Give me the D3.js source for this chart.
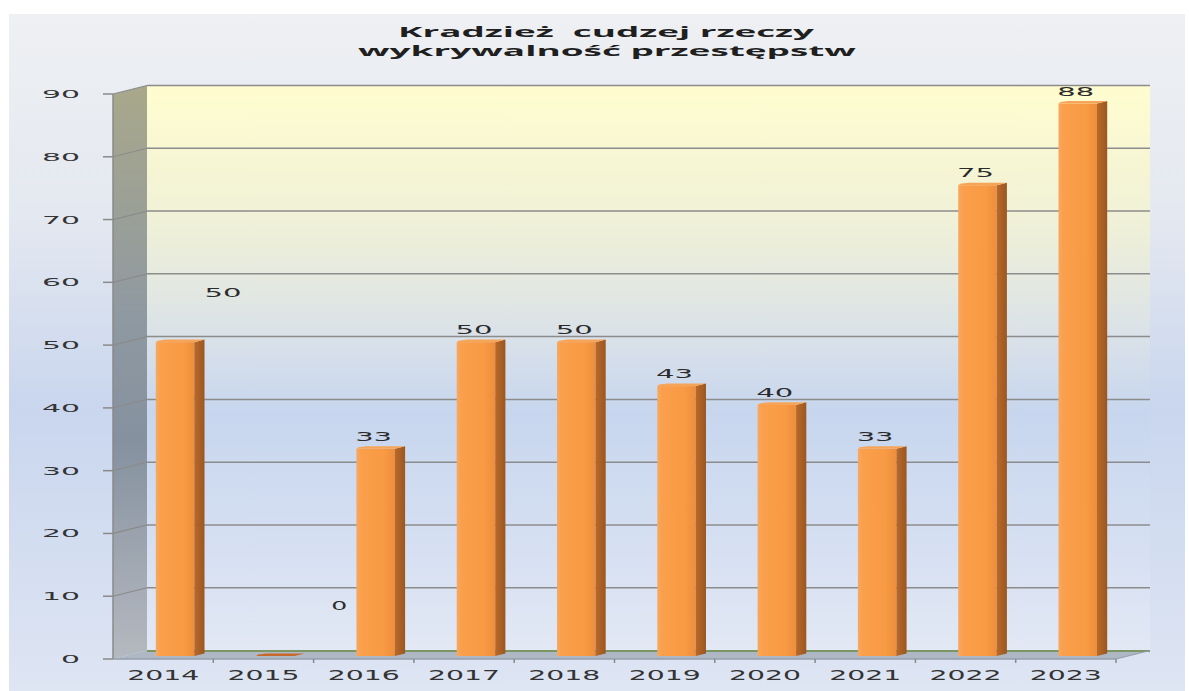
<!DOCTYPE html>
<html>
<head>
<meta charset="utf-8">
<script src="https://cdn.jsdelivr.net/npm/d3@7"></script>
<style>
  body { margin: 0; background: #ffffff; }
  svg { display: block; }
</style>
</head>
<body>
<div class="container"><svg width="1189" height="691"></svg></div>
<script>
// chart data
var years = ["2014", "2015", "2016", "2017", "2018", "2019", "2020", "2021", "2022", "2023"];
var values = [50, 0, 33, 50, 50, 43, 40, 33, 75, 88];
var yTicks = [0, 10, 20, 30, 40, 50, 60, 70, 80, 90];
var titleLines = ["Kradzież  cudzej rzeczy", "wykrywalność przestępstw"];

// two labels were dragged away from their bars in the original
var labelNudge = { "2014": [50, -37], "2015": [66, -38] };

var svg = d3.select(".container").select("svg");
var defs = svg.append("defs");

// 3d depth vector of the plot box
var depthX = 34, depthY = -8.5;

var x = d3.scaleBand()
    .domain(years)
    .range([113, 1116])
    .padding(0);

var y = d3.scaleLinear()
    .domain([0, 90])
    .range([659, 94]);

// gradients
function vGradient(id, stops) {
    var g = defs.append("linearGradient")
        .attr("id", id)
        .attr("x1", 0).attr("y1", 0).attr("x2", 0).attr("y2", 1);
    stops.forEach(function (s) {
        g.append("stop").attr("offset", s[0]).attr("stop-color", s[1]);
    });
}
function hGradient(id, stops) {
    var g = defs.append("linearGradient")
        .attr("id", id)
        .attr("x1", 0).attr("y1", 0).attr("x2", 1).attr("y2", 0);
    stops.forEach(function (s) {
        g.append("stop").attr("offset", s[0]).attr("stop-color", s[1]);
    });
}
vGradient("bg", [["0%", "#eef0f3"], ["30%", "#e4e8f0"], ["58%", "#c9d6ee"], ["100%", "#dee5f3"]]);
vGradient("backwall", [["0%", "#fffdcf"], ["25%", "#eff0d8"], ["45%", "#d9e1e9"], ["58%", "#c7d6ee"], ["80%", "#d5dff2"], ["100%", "#e2e8f4"]]);
vGradient("sidewall", [["0%", "#a9a88b"], ["40%", "#8f99a1"], ["62%", "#85919f"], ["100%", "#b5b9c0"]]);
hGradient("barfront", [["0%", "#f6a962"], ["12%", "#fa9f4c"], ["70%", "#f99a44"], ["100%", "#ec8e3c"]]);
hGradient("barside", [["0%", "#b9692a"], ["100%", "#9b5721"]]);

// outer background
svg.append("rect")
    .attr("x", 9).attr("y", 14)
    .attr("width", 1176).attr("height", 677)
    .attr("fill", "url(#bg)");

// title
svg.selectAll(".title")
    .data(titleLines)
    .enter().append("text")
    .attr("class", "title")
    .attr("x", function (d, i) { return i === 0 ? 398 : 358; })
    .attr("y", function (d, i) { return 37 + i * 19; })
    .attr("textLength", function (d, i) { return i === 0 ? 416 : 498; })
    .attr("lengthAdjust", "spacingAndGlyphs")
    .style("white-space", "pre")
    .attr("font-family", "Open Sans, sans-serif")
    .attr("font-weight", "bold")
    .attr("font-size", 14)
    .attr("fill", "#1f1f1f")
    .text(function (d) { return d; });

var x0 = x.range()[0], x1 = x.range()[1];
var yTop = y(90), yBot = y(0);

// back wall
svg.append("rect")
    .attr("x", x0 + depthX).attr("y", yTop + depthY)
    .attr("width", x1 - x0).attr("height", yBot - yTop)
    .attr("fill", "url(#backwall)");

// left wall
svg.append("polygon")
    .attr("points", [[x0, yTop], [x0 + depthX, yTop + depthY], [x0 + depthX, yBot + depthY], [x0, yBot]].join(" "))
    .attr("fill", "url(#sidewall)");

// gridlines on back wall and the diagonal on the left wall
var grid = svg.append("g").attr("class", "grid");
grid.selectAll(".hline")
    .data(yTicks.filter(function (d) { return d > 0; }))
    .enter().append("line")
    .attr("x1", x0 + depthX).attr("x2", x1 + depthX)
    .attr("y1", function (d) { return y(d) + depthY; })
    .attr("y2", function (d) { return y(d) + depthY; })
    .attr("stroke", "#8c8c8c")
    .attr("stroke-width", 1.5);
grid.selectAll(".dline")
    .data(yTicks.filter(function (d) { return d > 0; }))
    .enter().append("line")
    .attr("x1", x0).attr("x2", x0 + depthX)
    .attr("y1", function (d) { return y(d); })
    .attr("y2", function (d) { return y(d) + depthY; })
    .attr("stroke", "#8c8c8c")
    .attr("stroke-width", 1.2);

// floor
svg.append("polygon")
    .attr("points", [[x0, yBot], [x1, yBot], [x1 + depthX, yBot + depthY], [x0 + depthX, yBot + depthY]].join(" "))
    .attr("fill", "#aeb8c5");
svg.append("line")
    .attr("x1", x0 + depthX).attr("x2", x1 + depthX)
    .attr("y1", yBot + depthY + 0.5).attr("y2", yBot + depthY + 0.5)
    .attr("stroke", "#7c9663").attr("stroke-width", 2);

// bars: front face at 35% of the depth, 30% deep
var barW = 38.5;
var f1 = 0.35, fd = 0.3;
var bars = svg.append("g").attr("class", "bars")
    .selectAll("g")
    .data(years.map(function (d, i) { return { year: d, value: values[i] }; }))
    .enter().append("g");

function faceLeft(d) { return x(d.year) + x.bandwidth() / 2 - barW / 2 + f1 * depthX; }
function faceTop(d) { return y(d.value) + f1 * depthY; }
function faceBot() { return y(0) + f1 * depthY; }

bars.filter(function (d) { return d.value > 0; })
    .append("rect")
    .attr("x", faceLeft)
    .attr("y", faceTop)
    .attr("width", barW)
    .attr("height", function (d) { return faceBot() - faceTop(d); })
    .attr("fill", "url(#barfront)");

bars.filter(function (d) { return d.value > 0; })
    .append("polygon")
    .attr("points", function (d) {
        var r = faceLeft(d) + barW, t = faceTop(d), b = faceBot();
        return [[r, t], [r + fd * depthX, t + fd * depthY], [r + fd * depthX, b + fd * depthY], [r, b]].join(" ");
    })
    .attr("fill", "url(#barside)");

// top faces (the zero bar is only a flat lid on the floor)
bars.append("polygon")
    .attr("points", function (d) {
        var l = faceLeft(d), r = l + barW, t = faceTop(d);
        return [[l, t], [l + 2, t - 1.5], [l + fd * depthX, t + fd * depthY], [r + fd * depthX, t + fd * depthY], [r, t]].join(" ");
    })
    .attr("fill", function (d) { return d.value > 0 ? "#f6a458" : "#c8692c"; });

// value labels
var digitW = 18.5;
bars.append("text")
    .attr("x", function (d) {
        var w = String(d.value).length === 1 ? 16 : digitW * String(d.value).length;
        var n = labelNudge[d.year] || [0, 0];
        return faceLeft(d) + barW / 2 - 2 - w / 2 + n[0];
    })
    .attr("y", function (d) {
        var n = labelNudge[d.year] || [0, 0];
        return faceTop(d) - 8 + n[1];
    })
    .attr("textLength", function (d) {
        return String(d.value).length === 1 ? 16 : digitW * String(d.value).length;
    })
    .attr("lengthAdjust", "spacingAndGlyphs")
    .attr("font-family", "DejaVu Sans, sans-serif")
    .attr("font-size", 12)
    .attr("fill", "#2b2b2b")
    .text(function (d) { return d.value; });

// y axis: line, ticks, labels
var yAxis = svg.append("g").attr("class", "y axis");
yAxis.append("line")
    .attr("x1", x0).attr("x2", x0)
    .attr("y1", yTop).attr("y2", yBot)
    .attr("stroke", "#8a8a8a").attr("stroke-width", 1.5);
yAxis.selectAll(".tick")
    .data(yTicks)
    .enter().append("line")
    .attr("x1", x0 - 10).attr("x2", x0)
    .attr("y1", function (d) { return y(d); })
    .attr("y2", function (d) { return y(d); })
    .attr("stroke", "#8a8a8a").attr("stroke-width", 1.5);
yAxis.selectAll(".lbl")
    .data(yTicks)
    .enter().append("text")
    .attr("x", function (d) { return 80 - 19 * String(d).length; })
    .attr("y", function (d) { return y(d) + 4; })
    .attr("textLength", function (d) { return 19 * String(d).length; })
    .attr("lengthAdjust", "spacingAndGlyphs")
    .attr("font-family", "DejaVu Sans, sans-serif")
    .attr("font-size", 10.5)
    .attr("fill", "#333333")
    .text(function (d) { return d; });

// x axis: front floor edge, ticks, labels
var xAxis = svg.append("g").attr("class", "x axis");
xAxis.append("line")
    .attr("x1", x0).attr("x2", x1)
    .attr("y1", yBot).attr("y2", yBot)
    .attr("stroke", "#959fab").attr("stroke-width", 1.5);
xAxis.append("line")
    .attr("x1", x1).attr("x2", x1 + depthX)
    .attr("y1", yBot).attr("y2", yBot + depthY)
    .attr("stroke", "#959fab").attr("stroke-width", 1.2);
xAxis.selectAll(".tick")
    .data(years.slice(1).concat(["end"]))
    .enter().append("line")
    .attr("x1", function (d) { return d === "end" ? x1 : x(d); })
    .attr("x2", function (d) { return d === "end" ? x1 : x(d); })
    .attr("y1", yBot).attr("y2", yBot + 4)
    .attr("stroke", "#8a8a8a").attr("stroke-width", 1.5);
xAxis.selectAll(".lbl")
    .data(years)
    .enter().append("text")
    .attr("x", function (d) { return x(d) + x.bandwidth() / 2 - 36; })
    .attr("y", 680)
    .attr("textLength", 72)
    .attr("lengthAdjust", "spacingAndGlyphs")
    .attr("font-family", "DejaVu Sans, sans-serif")
    .attr("font-size", 13.5)
    .attr("fill", "#333333")
    .text(function (d) { return d; });
</script>
</body>
</html>
